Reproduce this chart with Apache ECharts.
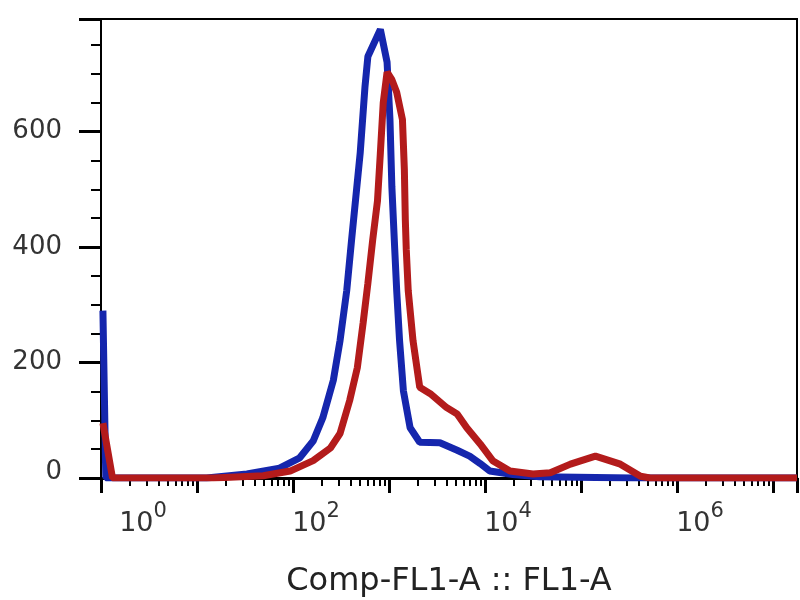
<!DOCTYPE html>
<html lang="en">
<head>
  <meta charset="UTF-8">
  <title>Comp-FL1-A :: FL1-A</title>
  <script src="https://cdn.jsdelivr.net/npm/echarts@6/dist/echarts.min.js"></script>
  <style>
    html, body { margin: 0; padding: 0; background: #fff; }
    #main { width: 800px; height: 600px; }
  </style>
</head>
<body>
  <div id="main"></div>
  <script>
    // x = log10(FL1-A) display position, y = count
    var blueX = [0.02, 0.05, 1.10, 1.52, 1.86, 2.07, 2.21, 2.31, 2.42, 2.49, 2.56, 2.61, 2.70, 2.75, 2.78, 2.91,
      2.98, 3.01, 3.03, 3.06, 3.08, 3.11, 3.15, 3.22, 3.32, 3.53, 3.71, 3.84, 3.95, 4.05, 4.29, 4.57, 5.54, 7.25]
    var blueY = [290, 0, 0, 7, 17, 35, 64, 104, 169, 238, 325, 412, 563, 678, 730, 777,
      720, 621, 504, 395, 325, 238, 151, 87, 62, 61, 48, 38, 25, 12, 6, 2, 0, 0]

    var redX = [0.02, 0.12, 1.17, 1.69, 1.97, 2.21, 2.39, 2.49, 2.59, 2.67, 2.73, 2.78, 2.83, 2.88, 2.91, 2.94, 2.98,
      3.03, 3.08, 3.14, 3.16, 3.17, 3.18, 3.20, 3.25, 3.32, 3.43, 3.60, 3.71, 3.81, 3.95, 4.08, 4.26, 4.50, 4.68,
      4.89, 5.15, 5.41, 5.62, 5.72, 7.25]
    var redY = [95, 0, 0, 4, 12, 30, 52, 77, 134, 191, 268, 337, 412, 480, 563, 650, 703,
      690, 668, 621, 534, 447, 395, 325, 238, 157, 146, 122, 111, 87, 59, 30, 12, 7, 9,
      24, 38, 24, 3, 0, 0]

    var labelDecades = [0, 2, 4, 6]
    var yLabels = [0, 200, 400, 600]

    var minorX = []
    for (var d = 0; d < 7; d++) {
      for (var k = 2; k <= 9; k++) minorX.push(d + Math.log10(k))
    }
    var minorY = []
    for (var v = 50; v < 795; v += 50) {
      if (v % 200 !== 0) minorY.push(v)
    }

    function pairs (xs, ys) {
      return xs.map(function (x, i) { return [x, ys[i]] })
    }

    var font = 'DejaVu Sans'
    var chart = echarts.init(document.getElementById('main'))
    chart.setOption({
      animation: false,
      grid: {
        left: 101, right: 3, top: 19, bottom: 122,
        outerBoundsMode: 'none',
        containLabel: false,
        show: true, borderColor: '#000', borderWidth: 2
      },
      xAxis: [
        {
          type: 'value', position: 'bottom', min: 0, max: 7.25, interval: 1,
          name: 'Comp-FL1-A :: FL1-A', nameLocation: 'middle', nameGap: 88,
          nameTextStyle: { fontFamily: font, fontSize: 32, color: '#222' },
          axisLine: { lineStyle: { color: '#000', width: 3 } },
          axisTick: { length: 15, lineStyle: { color: '#000', width: 3 } },
          splitLine: { show: false },
          axisLabel: {
            customValues: labelDecades,
            margin: 23,
            padding: [0, 0, 0, 46],
            color: '#333',
            fontFamily: font,
            fontSize: 27,
            formatter: function (val) {
              var s = '{base|10}{sup|' + val + '}'
              return val === 0 ? '{pad| }' + s : s
            },
            rich: {
              base: { fontFamily: font, fontSize: 27, color: '#333', lineHeight: 46 },
              sup: { fontFamily: font, fontSize: 21, color: '#333', verticalAlign: 'top' },
              pad: { fontSize: 27, width: 38 }
            }
          }
        },
        {
          type: 'value', position: 'bottom', min: 0, max: 7.25,
          axisLine: { show: false },
          axisTick: { customValues: minorX, length: 8, lineStyle: { color: '#000', width: 2 } },
          axisLabel: { show: false },
          splitLine: { show: false }
        }
      ],
      yAxis: [
        {
          type: 'value', min: 0, max: 795, interval: 200,
          axisLine: { show: true, lineStyle: { color: '#000', width: 2 } },
          axisTick: { show: true, length: 22, lineStyle: { color: '#000', width: 3 } },
          splitLine: { show: false },
          axisLabel: {
            customValues: yLabels,
            margin: 39,
            color: '#333',
            fontFamily: font,
            fontSize: 26,
            formatter: function (val) {
              return val === 0 ? '{z|0}' : String(val)
            },
            rich: {
              z: { fontFamily: font, fontSize: 26, color: '#333', padding: [0, 0, 12, 0] }
            }
          }
        },
        {
          type: 'value', position: 'left', min: 0, max: 795,
          axisLine: { show: false },
          axisTick: { show: true, customValues: minorY, length: 10, lineStyle: { color: '#000', width: 2 } },
          axisLabel: { show: false },
          splitLine: { show: false }
        }
      ],
      series: [
        {
          name: 'blue', type: 'line', xAxisIndex: 0, yAxisIndex: 0,
          data: pairs(blueX, blueY), showSymbol: false,
          lineStyle: { color: '#1526ad', width: 7 }
        },
        {
          name: 'red', type: 'line', xAxisIndex: 0, yAxisIndex: 0,
          data: pairs(redX, redY), showSymbol: false,
          lineStyle: { color: '#b31b1b', width: 7 }
        }
      ]
    })
  </script>
</body>
</html>
